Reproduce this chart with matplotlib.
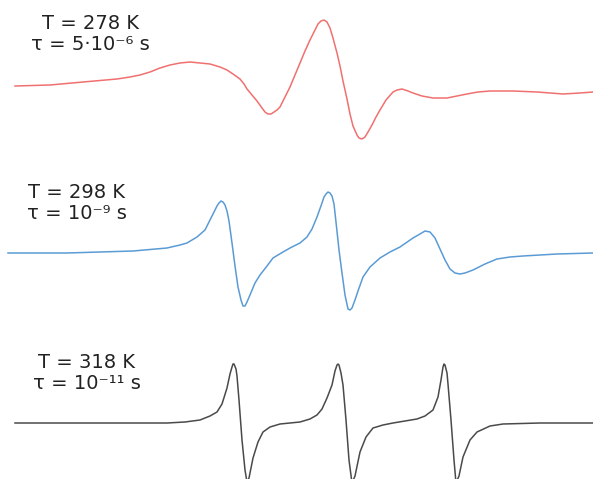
import matplotlib
matplotlib.use("Agg")
import matplotlib.pyplot as plt
import numpy as np

# Field axis (arbitrary units) and signal (arbitrary units)
field_278 = [15, 50, 83, 117, 130, 140, 150, 160, 170, 180, 190, 200, 210, 220, 227, 233, 240,
             244, 247, 252, 257, 262, 265, 268, 271, 274, 277, 280, 285, 290, 295, 300, 305,
             310, 315, 318, 321, 324, 327, 330, 333, 337, 340, 343, 347, 350, 353, 357, 359,
             362, 365, 368, 372, 376, 380, 386, 393, 397, 402, 408, 413, 422, 433, 447, 457,
             467, 478, 490, 513, 537, 563, 580, 593]
signal_278 = [4, 5, 8, 11, 13, 15, 18, 22, 25, 27, 28, 27, 26, 23, 20, 16, 11,
              6, 1, -5, -11, -18, -22, -24, -24, -22, -20, -17, -7, 3, 15, 27, 39,
              50, 60, 66, 69, 70, 68, 62, 52, 37, 24, 9, -9, -24, -36, -45, -48,
              -49, -47, -42, -35, -27, -20, -10, -2, 0, 1, -1, -3, -6, -8, -8, -6,
              -4, -2, -1, -1, -2, -4, -3, -2]

field_298 = [8, 67, 133, 167, 180, 187, 197, 205, 210, 215, 217, 219, 221, 223, 225, 227, 229,
             232, 235, 238, 241, 243, 245, 247, 250, 255, 260, 267, 273, 283, 290, 300, 307,
             312, 317, 322, 324, 326, 328, 330, 332, 334, 336, 339, 342, 345, 348, 350, 352,
             355, 358, 363, 370, 380, 390, 400, 413, 420, 425, 430, 435, 440, 445, 450, 455,
             460, 465, 473, 485, 497, 510, 523, 557, 593]
signal_298 = [0, 0, 2, 5, 8, 10, 16, 23, 33, 43, 47, 50, 52, 51, 48, 42, 32,
              10, -13, -34, -47, -53, -53, -49, -42, -30, -22, -13, -5, 1, 5, 10, 16,
              24, 36, 50, 56, 59, 61, 60, 57, 49, 31, 3, -20, -42, -56, -57, -55,
              -47, -38, -24, -14, -5, 1, 6, 15, 19, 22, 21, 15, 4, -7, -16, -20,
              -21, -20, -17, -11, -6, -4, -3, -1, 0]

field_318 = [15, 100, 167, 185, 200, 210, 217, 222, 227, 230, 232, 233, 234, 236, 237, 239, 242,
             245, 247, 249, 253, 258, 263, 270, 280, 300, 310, 317, 322, 327, 332, 335, 337,
             338, 339, 341, 343, 346, 349, 352, 355, 360, 366, 373, 383, 393, 405, 417, 425,
             433, 438, 441, 443, 444, 445, 447, 448, 451, 454, 456, 459, 463, 470, 477, 490,
             503, 540, 593]
signal_318 = [0, 0, 0, 1, 3, 7, 11, 19, 35, 49, 56, 59, 59, 54, 47, 23, -17,
              -47, -59, -55, -35, -19, -9, -4, -1, 1, 4, 8, 14, 25, 38, 52, 58,
              59, 58, 50, 38, 3, -37, -60, -53, -29, -14, -5, -2, 0, 2, 4, 7,
              13, 26, 43, 56, 59, 58, 50, 39, 3, -37, -60, -53, -34, -17, -9, -3,
              -1, 0, 0]

labels = ["T = 278 K\nτ = 5·10⁻⁶ s",
          "T = 298 K\nτ = 10⁻⁹ s",
          "T = 318 K\nτ = 10⁻¹¹ s"]

colors = ["#f07070", "#5b9bd5", "#4a4a4a"]
offsets = [389, 226, 56]
label_pos = [(90, 445), (77, 276), (87, 106)]

fig = plt.figure(figsize=(5.93, 4.79), dpi=100)
ax = fig.add_axes([0, 0, 1, 1])
ax.set_xlim(0, 593)
ax.set_ylim(0, 479)
ax.axis("off")

series = [(field_278, signal_278), (field_298, signal_298), (field_318, signal_318)]
for (fx, sy), c, off, lab, (lx, ly) in zip(series, colors, offsets, labels, label_pos):
    ax.plot(fx, np.array(sy) + off, color=c, lw=1.1, solid_joinstyle="round")
    ax.text(lx, ly, lab, ha="center", va="center", fontsize=14, color="#222222",
            linespacing=1.1)

fig.savefig("out.png", dpi=100)
